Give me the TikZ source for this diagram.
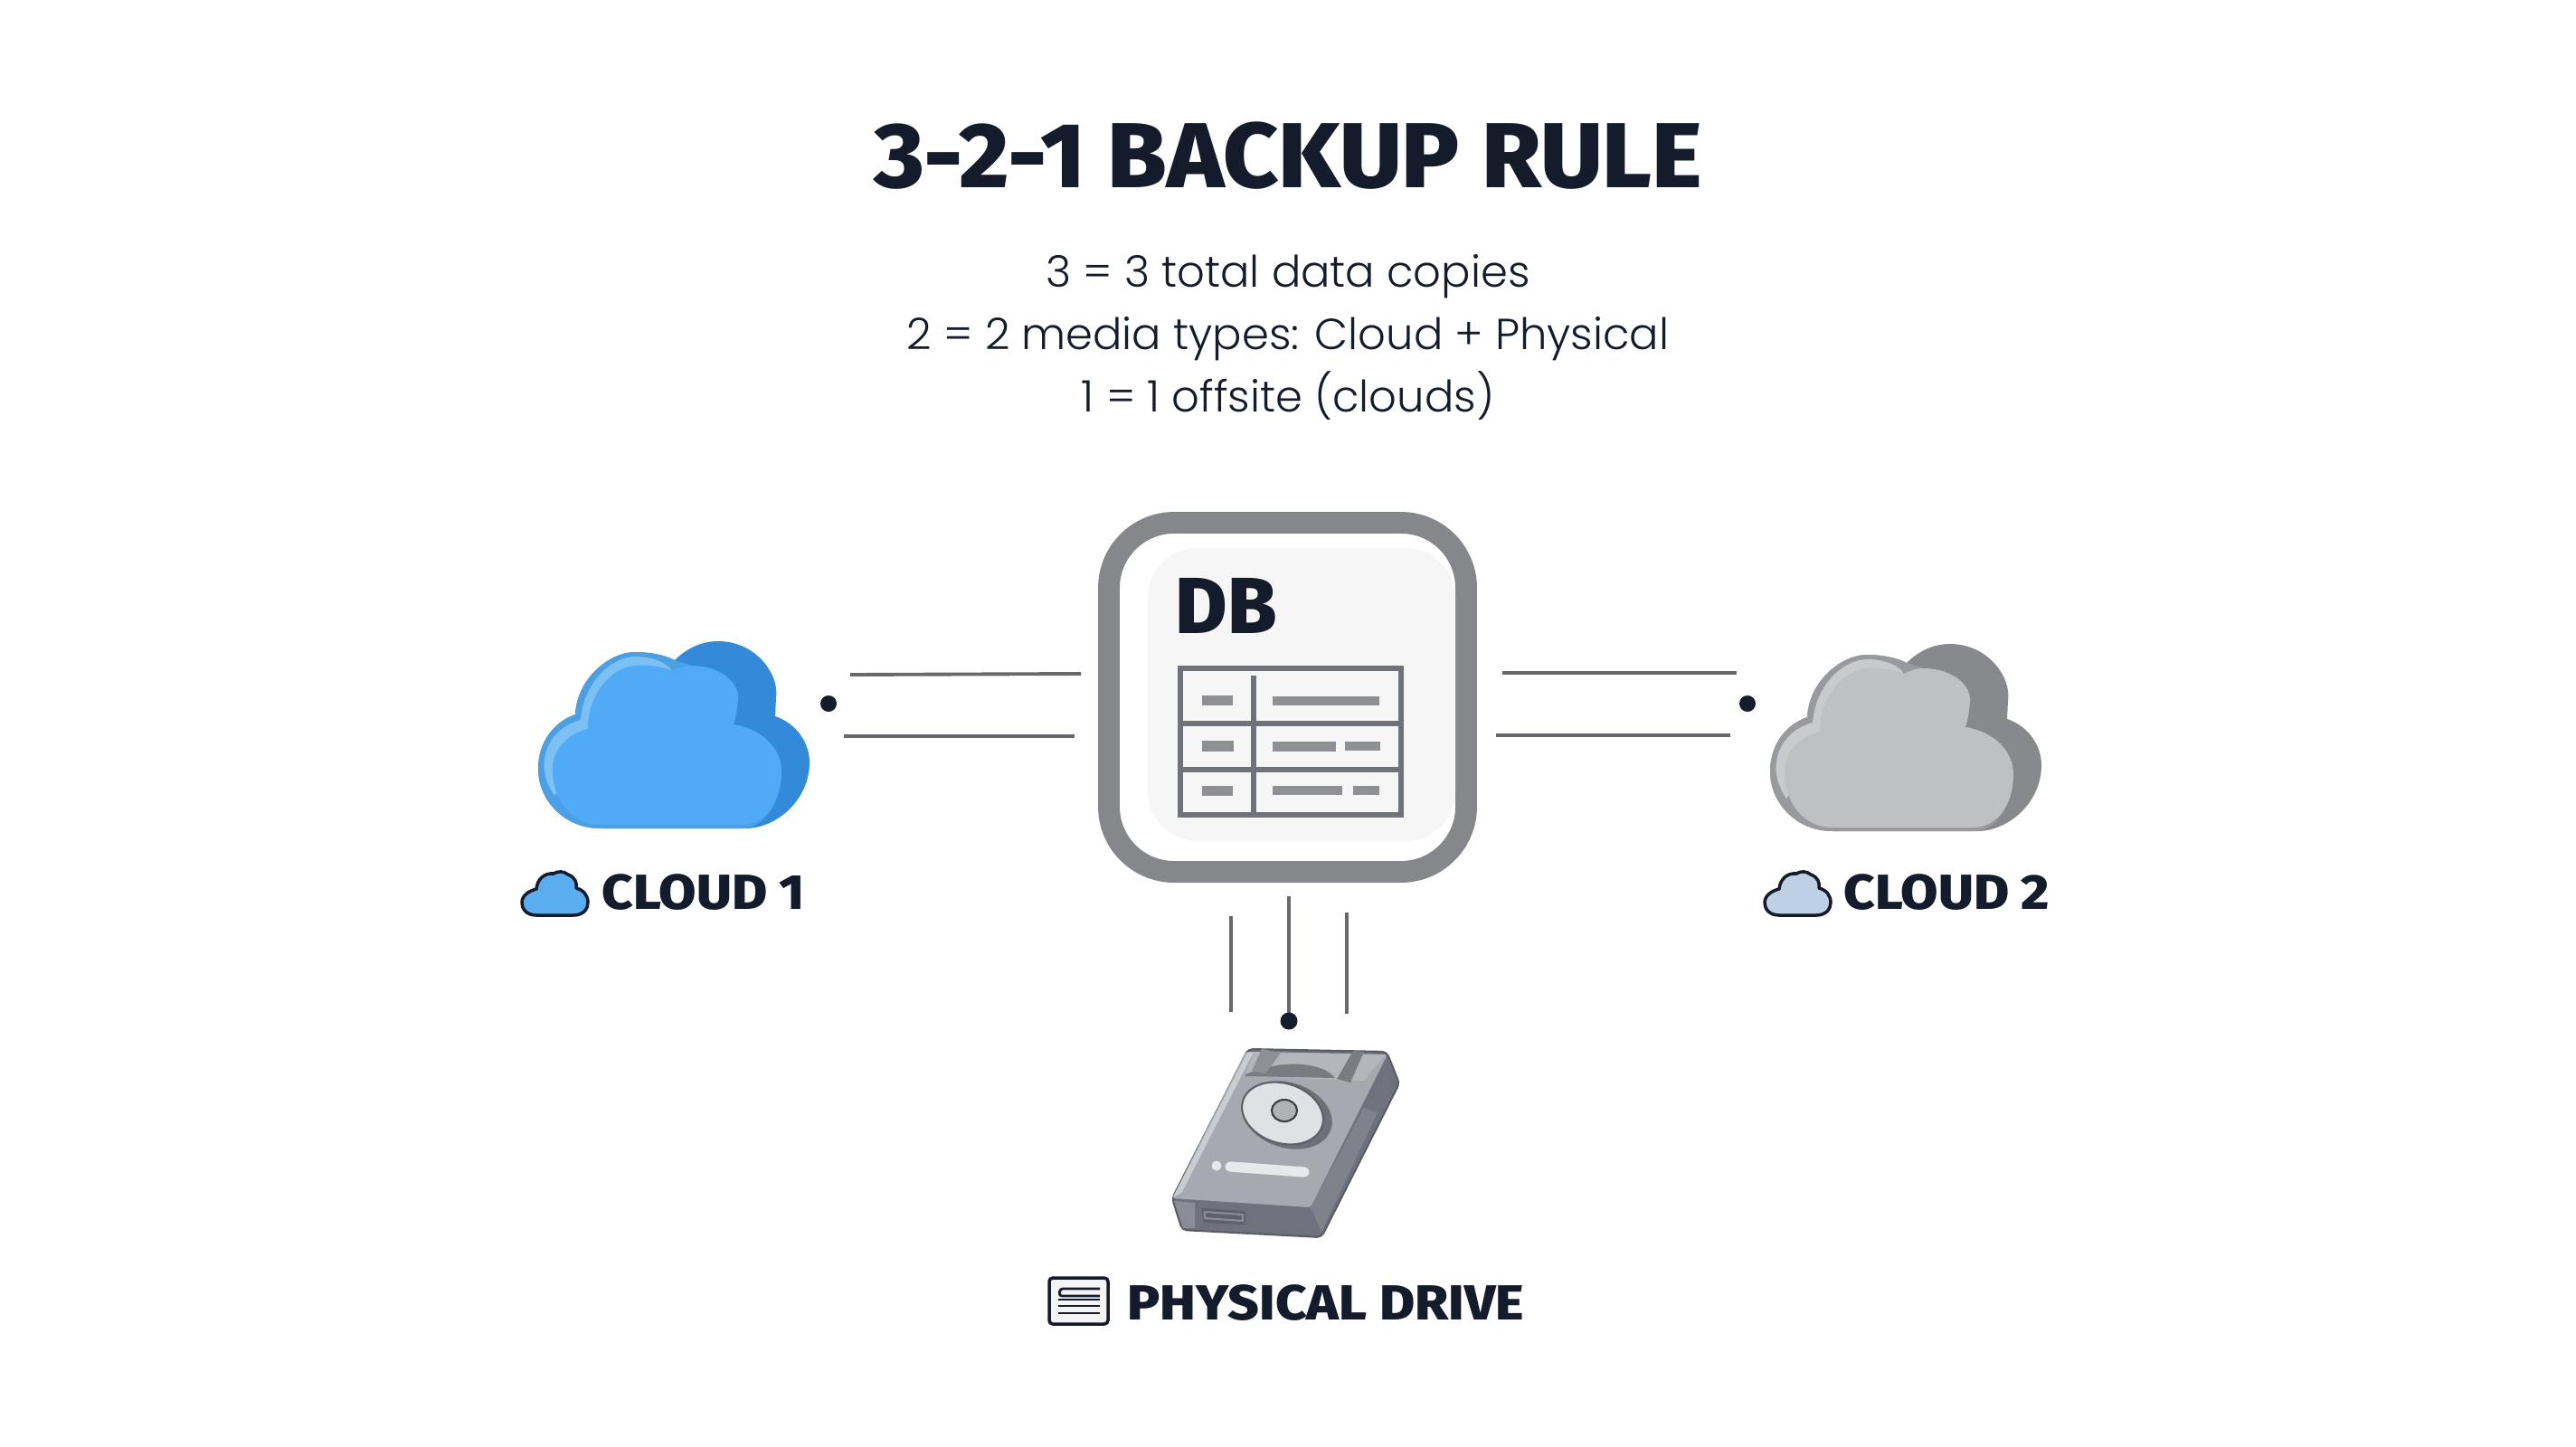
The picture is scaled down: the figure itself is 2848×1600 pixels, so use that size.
\documentclass[tikz,border=0pt]{standalone}
\usepackage{fontspec}
\setmainfont{Poppins}[UprightFont=* Light]
\newfontfamily\headfont{Fira Sans}[BoldFont=* ExtraBold, BoldFeatures={FakeStretch=1.04}]
\newfontfamily\tagfont{Fira Sans}[BoldFont=* ExtraBold, BoldFeatures={FakeStretch=1.1}]
\definecolor{ink}{HTML}{141C2C}
\definecolor{rim}{HTML}{85878B}
\definecolor{panel}{HTML}{F6F6F7}
\definecolor{gridline}{HTML}{6F7278}
\definecolor{cellbar}{HTML}{8E9094}
\definecolor{lineg}{HTML}{66686C}
\definecolor{blueback}{HTML}{338AD8}
\definecolor{bluerim}{HTML}{4B9FE5}
\definecolor{blueedge}{HTML}{7CC0F4}
\definecolor{blueface}{HTML}{51AAF6}
\definecolor{greyback}{HTML}{88898C}
\definecolor{greyrim}{HTML}{999A9D}
\definecolor{greyedge}{HTML}{C9CACC}
\definecolor{greyface}{HTML}{BFC0C3}
\definecolor{iconblue}{HTML}{5AAEF0}
\definecolor{icongrey}{HTML}{BED0E4}
\definecolor{driveside}{HTML}{6F727C}
\definecolor{driveedge}{HTML}{5A5D66}
\definecolor{drivelow}{HTML}{7F828A}
\definecolor{drivecorner}{HTML}{8A8D95}
\definecolor{drivetop}{HTML}{A6A9B0}
\definecolor{driveshine}{HTML}{C9CCD3}
\definecolor{drivecap}{HTML}{B4B6BB}
\definecolor{drivetab}{HTML}{7A7C84}
\definecolor{discshade}{HTML}{6E7078}
\definecolor{discrim}{HTML}{5D6068}
\definecolor{discface}{HTML}{E0E1E4}
\definecolor{hubrim}{HTML}{3A3D45}
\definecolor{hubface}{HTML}{B0B2B6}
\definecolor{drivebar}{HTML}{E8E9EB}
\definecolor{portface}{HTML}{5E616A}
\definecolor{iconpaper}{HTML}{F4F4F4}
\tikzstyle{titletext} = [font=\headfont\bfseries\fontsize{29}{34}\selectfont, text=ink, inner sep=0pt, anchor=base]
\tikzstyle{subtext} = [font=\fontsize{13.65}{19.5}\selectfont, text=ink, inner sep=0pt, align=center, anchor=base]
\tikzstyle{labeltext} = [font=\tagfont\bfseries\fontsize{15.5}{18}\selectfont, text=ink, inner sep=0pt, anchor=base west]
\tikzstyle{wire} = [draw=lineg, line width=1.1pt]
\tikzstyle{cellmark} = [fill=cellbar]
% cloud: back, rim, light edge, face
\newcommand{\bigcloud}[4]{%
    \fill[#1] (664,916) .. controls (623,916) and (595,884) .. (595,850)
        .. controls (595,820) and (613,798) .. (636,790)
        .. controls (638,750) and (674,721) .. (702,721)
        .. controls (720,721) and (737,725) .. (746,730)
        .. controls (760,716) and (777,709) .. (794,709)
        .. controls (835,709) and (862,745) .. (858,772) -- (857,792)
        .. controls (881,800) and (895,822) .. (895,843)
        .. controls (895,884) and (859,916) .. (824,916) -- cycle;
    \fill[#2] (664,916) .. controls (623,916) and (595,884) .. (595,850)
        .. controls (595,820) and (613,798) .. (636,790)
        .. controls (638,750) and (674,721) .. (702,721)
        .. controls (720,721) and (737,725) .. (746,730)
        -- (765,736) -- (811,801) -- (864,853)
        .. controls (864,885) and (847,916) .. (819,916) -- cycle;
    \fill[#3] (613,880) .. controls (603,865) and (600,850) .. (602,840)
        .. controls (604,820) and (619,802) .. (642,796)
        .. controls (645,755) and (676,726) .. (702,726)
        .. controls (720,726) and (737,732) .. (743,742) -- (664,800) -- cycle;
    \fill[#4] (664,912) .. controls (632,912) and (611,885) .. (611,850)
        .. controls (611,830) and (626,812) .. (650,806)
        .. controls (649,770) and (676,736) .. (704,736)
        .. controls (720,735) and (737,738) .. (743,742)
        .. controls (750,738) and (757,736) .. (765,736)
        .. controls (796,736) and (818,755) .. (816,773)
        .. controls (815,785) and (813,795) .. (811,801)
        .. controls (843,806) and (864,828) .. (864,853)
        .. controls (864,885) and (847,912) .. (819,912) -- cycle;
}
% small cloud beside a label
\newcommand{\smallcloud}[1]{%
    \filldraw[draw=ink, line width=1pt, fill=#1, line join=round] (593,1012)
        .. controls (581,1012) and (577,1004) .. (577,998)
        .. controls (577,990) and (585,985) .. (593,983)
        .. controls (594,972) and (602,965) .. (612,966)
        .. controls (617,963) and (623,963) .. (628,967)
        .. controls (636,970) and (638,976) .. (637,982)
        .. controls (645,984) and (650,990) .. (650,998)
        .. controls (650,1005) and (645,1012) .. (634,1012) -- cycle;
}
\begin{document}
\begin{tikzpicture}[x=0.01cm, y=-0.01cm]
    \useasboundingbox (0,0) rectangle (2848,1600);
    \fill[white] (0,0) rectangle (2848,1600);

    \node[titletext] (title) at (1424,208) {3-2-1 BACKUP RULE};
    \node[subtext] (rules) at (1424,455) {3 = 3 total data copies\\2 = 2 media types: Cloud + Physical\\1 = 1 offsite (clouds)};

    % database
    \draw[draw=rim, line width=6.8pt, fill=white, rounded corners=0.72cm] (1226,578) rectangle (1621,964);
    \fill[panel, rounded corners=0.55cm] (1269,606) rectangle (1609,930);
    \node[font=\fontspec{Fira Sans ExtraBold}\fontsize{25}{30}\selectfont, text=ink, inner sep=0pt, anchor=base west] (dblabel) at (1299,700) {DB};
    \draw[draw=gridline, line width=1.5pt] (1305,739) rectangle (1549,901);
    \draw[draw=gridline, line width=1.5pt] (1305,800) -- (1549,800) (1305,851) -- (1549,851) (1386,747) -- (1386,901);
    \foreach \xa/\xb/\ya/\yb in {1329/1363/769/780, 1407/1525/770/780, 1329/1364/819/831, 1407/1477/820/831,
        1487/1526/820/830, 1329/1363/869/880, 1407/1484/869/879, 1496/1525/869/879}
        \fill[cellmark] (\xa,\ya) rectangle (\xb,\yb);

    % clouds
    \bigcloud{blueback}{bluerim}{blueedge}{blueface}
    \begin{scope}[shift={(1362,3)}]
        \bigcloud{greyback}{greyrim}{greyedge}{greyface}
    \end{scope}
    \smallcloud{iconblue}
    \begin{scope}[shift={(1374,0)}]
        \smallcloud{icongrey}
    \end{scope}
    \node[labeltext] (cloudone) at (665,1005) {CLOUD 1};
    \node[labeltext] (cloudtwo) at (2038,1005) {CLOUD 2};

    % wires
    \coordinate (la) at (940,746); \coordinate (lb) at (1195,745);
    \coordinate (lc) at (933,814); \coordinate (ld) at (1188,814);
    \coordinate (ra) at (1661,744); \coordinate (rb) at (1920,744);
    \coordinate (rc) at (1654,813); \coordinate (rd) at (1913,813);
    \coordinate (va) at (1361,1013); \coordinate (vb) at (1361,1119);
    \coordinate (vc) at (1425,991); \coordinate (vd) at (1425,1122);
    \coordinate (ve) at (1489,1009); \coordinate (vf) at (1489,1121);
    \draw[wire] (la) -- (lb);
    \draw[wire] (lc) -- (ld);
    \draw[wire] (ra) -- (rb);
    \draw[wire] (rc) -- (rd);
    \draw[wire] (va) -- (vb);
    \draw[wire] (vc) -- (vd);
    \draw[wire] (ve) -- (vf);
    \fill[ink] (916,778) circle (9);
    \fill[ink] (1932,778) circle (9);
    \fill[ink] (1425,1129) circle (9.5);

    % drive
    \filldraw[fill=driveside, draw=driveedge, line width=0.6pt, line join=round, rounded corners=0.05cm] (1380,1160) -- (1533,1163) -- (1547,1198) -- (1461,1368) -- (1307,1360) -- (1296,1325) -- cycle;
    \fill[drivelow] (1523,1230) -- (1461,1362) -- (1449,1335) -- (1508,1225) -- cycle;
    \fill[drivecorner] (1298,1328) -- (1321,1330) -- (1321,1358) -- (1308,1358) -- cycle;
    \fill[drivetop, rounded corners=0.03cm] (1377,1163) -- (1534,1166) -- (1449,1335) -- (1296,1325) -- cycle;
    \fill[driveshine] (1379,1164) -- (1386,1163) -- (1307,1318) -- (1297,1324) -- cycle;
    \fill[drivecap] (1386,1163) -- (1532,1166) -- (1508,1195) -- (1377,1190) -- cycle;
    \fill[drivetab] (1377,1188) .. controls (1418,1170) and (1464,1175) .. (1476,1192) -- (1377,1190) -- cycle;
    \fill[drivetab!85!white] (1384,1184) -- (1395,1160) -- (1416,1164) -- (1399,1187) -- cycle;
    \fill[drivetab] (1478,1193) -- (1496,1162) -- (1508,1163) -- (1493,1197) -- cycle;
    \fill[discshade, rotate around={-18:(1423,1233)}] (1423,1233) ellipse (51 and 36);
    \filldraw[draw=discrim, fill=discface, line width=0.6pt, rotate around={-18:(1418,1231)}] (1418,1231) ellipse (46 and 33);
    \filldraw[draw=hubrim, fill=hubface, line width=0.6pt] (1420,1228) ellipse (14 and 12);
    \fill[drivebar] (1345,1289) circle (5.5);
    \draw[draw=drivebar, line width=3.2pt, line cap=round] (1360,1290) -- (1442,1296);
    \fill[portface, rounded corners=0.02cm] (1329,1336) -- (1377,1339) -- (1377,1354) -- (1330,1352) -- cycle;
    \draw[draw=drivecorner, line width=0.6pt] (1332,1340) -- (1374,1343) -- (1374,1350) -- (1332,1347) -- cycle;

    % drive icon and label
    \filldraw[draw=ink, line width=1pt, fill=iconpaper, rounded corners=0.04cm] (1160,1413) rectangle (1225,1464);
    \draw[draw=ink, line width=0.8pt, rounded corners=0.03cm] (1216,1425) -- (1172,1425) -- (1171,1433) -- (1216,1433);
    \foreach \yy in {1437,1444,1452}
        \draw[draw=ink, line width=0.8pt] (1170,\yy) -- (1216,\yy);
    \node[labeltext] (drivelabel) at (1246,1459) {PHYSICAL DRIVE};
\end{tikzpicture}
\end{document}
